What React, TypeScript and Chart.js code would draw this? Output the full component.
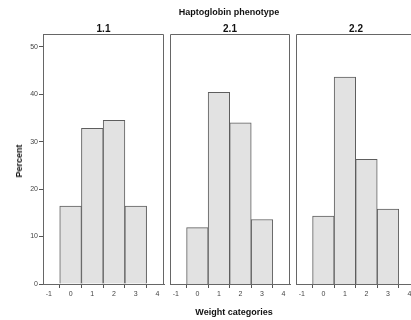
import React, { useEffect, useRef } from "react";
import { Chart, registerables } from "chart.js";

Chart.register(...registerables);

// ---- data ----
const categories = [0, 1, 2, 3];
const panelLabels = ["1.1", "2.1", "2.2"];
const pct11 = [16.4, 32.8, 34.5, 16.4];
const pct21 = [11.9, 40.4, 34.0, 13.6];
const pct22 = [14.3, 43.6, 26.3, 15.8];
const xTicks = [-1, 0, 1, 2, 3, 4];
const yTicks = [0, 10, 20, 30, 40, 50];
const mainTitle = "Haptoglobin phenotype";
const xTitle = "Weight categories";
const yTitle = "Percent";

const FONT = '"Liberation Sans", Arial, Helvetica, sans-serif';

const boxPlugin = {
  id: "panelBox",
  afterDraw(chart: any) {
    const { ctx, chartArea: a } = chart;
    ctx.save();
    ctx.strokeStyle = "#666666";
    ctx.lineWidth = 1;
    const l = Math.round(a.left) + 0.5;
    const t = Math.round(a.top) + 0.5;
    const r = Math.round(a.right) - 0.5;
    const b = Math.round(a.bottom) + 0.5;
    ctx.beginPath();
    ctx.moveTo(l, b);
    ctx.lineTo(l, t);
    ctx.lineTo(r, t);
    ctx.lineTo(r, b);
    ctx.stroke();
    ctx.restore();
  },
};

type PanelProps = {
  values: number[];
  showY: boolean;
  left: number;
  width: number;
  padLeft: number;
  padRight: number;
};

function Panel({ values, showY, left, width, padLeft, padRight }: PanelProps) {
  const ref = useRef<HTMLCanvasElement | null>(null);
  useEffect(() => {
    if (!ref.current) return;
    const chart = new Chart(ref.current, {
      type: "bar",
      data: {
        datasets: [
          {
            data: categories.map((c, i) => ({ x: c, y: values[i] })),
            backgroundColor: "#e2e2e2",
            borderColor: "#5e5e5e",
            borderWidth: 1,
            barPercentage: 1,
            categoryPercentage: 1,
          },
        ],
      },
      options: {
        responsive: false,
        animation: false,
        devicePixelRatio: 1,
        layout: { padding: { top: 34, bottom: 0, left: padLeft, right: padRight } },
        plugins: { legend: { display: false }, tooltip: { enabled: false }, title: { display: false } },
        scales: {
          x: {
            type: "linear",
            min: -1.27,
            max: 4.3,
            offset: false,
            afterFit: (s: any) => {
              s.height = 36;
            },
            afterBuildTicks: (s: any) => {
              s.ticks = xTicks.map((v) => ({ value: v }));
            },
            grid: { display: true, drawOnChartArea: false, drawTicks: true, tickLength: 4, color: "#555" },
            border: { display: true, color: "#666" },
            ticks: { font: { family: FONT, size: 7 }, color: "#444", padding: 2, maxRotation: 0, autoSkip: false },
          },
          y: {
            type: "linear",
            display: showY,
            min: 0,
            max: 52.7,
            afterFit: (s: any) => {
              s.width = showY ? 43 - padLeft : 0;
            },
            afterBuildTicks: (s: any) => {
              s.ticks = yTicks.map((v) => ({ value: v }));
            },
            grid: { display: true, drawOnChartArea: false, drawTicks: true, tickLength: 4, color: "#555" },
            border: { display: true, color: "#666" },
            ticks: { font: { family: FONT, size: 7 }, color: "#444", padding: 1 },
          },
        },
      },
      plugins: [boxPlugin],
    } as any);
    return () => chart.destroy();
  }, [values, showY, padLeft, padRight]);
  return (
    <canvas
      ref={ref}
      width={width}
      height={320}
      style={{ position: "absolute", left, top: 0, width, height: 320 }}
    />
  );
}

const textBase: React.CSSProperties = {
  position: "absolute",
  fontFamily: FONT,
  fontWeight: "bold",
  fontSize: 9,
  color: "#111",
  whiteSpace: "nowrap",
  lineHeight: "10px",
};

export default function App() {
  const panels = [
    { values: pct11, showY: true, left: 0, width: 170, padLeft: 0, padRight: 6, cx: 103.5 },
    { values: pct21, showY: false, left: 166, width: 128, padLeft: 4, padRight: 4, cx: 230 },
    { values: pct22, showY: false, left: 292, width: 128, padLeft: 4, padRight: 4, cx: 356 },
  ];
  return (
    <div
      style={{
        position: "fixed",
        left: 0,
        top: 0,
        width: 411,
        height: 320,
        overflow: "hidden",
        background: "#fff",
      }}
    >
      {panels.map((p, i) => (
        <Panel key={i} values={p.values} showY={p.showY} left={p.left} width={p.width} padLeft={p.padLeft} padRight={p.padRight} />
      ))}
      <div style={{ ...textBase, left: 229, top: 7, transform: "translateX(-50%)" }}>{mainTitle}</div>
      {panels.map((p, i) => (
        <div key={"t" + i} style={{ ...textBase, fontSize: 10, left: p.cx, top: 24, transform: "translateX(-50%)" }}>
          {panelLabels[i]}
        </div>
      ))}
      <div style={{ ...textBase, left: 234, top: 307, transform: "translateX(-50%)" }}>{xTitle}</div>
      <div
        style={{
          ...textBase,
          left: 19,
          top: 161,
          transform: "translate(-50%, -50%) rotate(-90deg)",
        }}
      >
        {yTitle}
      </div>
    </div>
  );
}
